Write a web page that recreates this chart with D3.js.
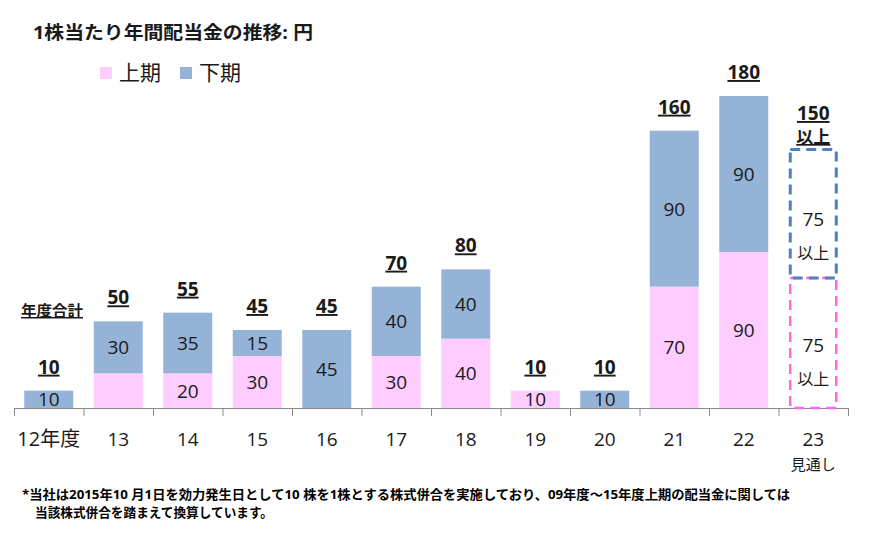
<!DOCTYPE html>
<html>
<head>
<meta charset="utf-8">
<script src="https://cdn.jsdelivr.net/npm/d3@7"></script>
<style>
  body { margin: 0; background: #fff; }
  svg { display: block; font-family: "Open Sans", "Noto Sans CJK JP", sans-serif; }
</style>
</head>
<body>
<svg id="chart"></svg>
<script>
// fiscal years, first/second half dividends (yen per share)
const years = ["12", "13", "14", "15", "16", "17", "18", "19", "20", "21", "22", "23"];
const yearLabels = ["12年度", "13", "14", "15", "16", "17", "18", "19", "20", "21", "22", "23"];
const firstHalf = [0, 20, 20, 30, 0, 30, 40, 10, 0, 70, 90, 75];
const secondHalf = [10, 30, 35, 15, 45, 40, 40, 0, 10, 90, 90, 75];
const totals = [10, 50, 55, 45, 45, 70, 80, 10, 10, 160, 180, 150];
// label shown inside the pink part (13 has none in the source)
const firstLabels = ["", "", "20", "30", "", "30", "40", "10", "", "70", "90", "75"];
const secondLabels = ["10", "30", "35", "15", "45", "40", "40", "", "10", "90", "90", "75"];
const forecastYear = "23";

const title = "1株当たり年間配当金の推移: 円";
const seriesNames = ["上期", "下期"];
const note1 = "*当社は2015年10 月1日を効力発生日として10 株を1株とする株式併合を実施しており、09年度～15年度上期の配当金に関しては";
const note2 = "当該株式併合を踏まえて換算しています。";

const pink = "#ffccff", blue = "#95b3d7";
const pinkLine = "#ff66ee", blueLine = "#4f81bd";
const ink = "#1a1a1a";

const svgWidth = 870, svgHeight = 547;
const left = 14, right = 848, base = 408;

const svg = d3.select("#chart")
    .attr("width", svgWidth)
    .attr("height", svgHeight);

const x = d3.scaleBand()
    .domain(years)
    .range([left, right])
    .paddingInner(0.295)
    .paddingOuter(0.1475);

const y = d3.scaleLinear()
    .domain([0, 180])
    .range([base, 96]);

const rows = years.map((yr, i) => ({
    yr, i,
    first: firstHalf[i], second: secondHalf[i], total: totals[i],
    firstLabel: firstLabels[i], secondLabel: secondLabels[i]
}));

// title
svg.append("text")
    .attr("x", 33).attr("y", 39)
    .attr("font-size", 18).attr("font-weight", "bold")
    .attr("textLength", 280).attr("lengthAdjust", "spacingAndGlyphs")
    .attr("fill", ink)
    .text(title);

// legend
const legend = svg.append("g");
[pink, blue].forEach((c, i) => {
    legend.append("rect")
        .attr("x", 100 + i * 80).attr("y", 67)
        .attr("width", 12).attr("height", 12)
        .attr("fill", c);
    legend.append("text")
        .attr("x", 119 + i * 80).attr("y", 80)
        .attr("font-size", 21)
        .attr("fill", ink)
        .text(seriesNames[i]);
});

// axis with boundary ticks
const bounds = d3.scaleLinear().domain([0, years.length]).range([left, right]);
const axis = svg.append("g")
    .attr("transform", `translate(0,${base})`)
    .call(d3.axisBottom(bounds)
        .tickValues(d3.range(0, years.length + 1))
        .tickSizeInner(8).tickSizeOuter(0)
        .tickFormat(""));
axis.selectAll("path, line").attr("stroke", "#8a8a8a").attr("stroke-width", 1);

const actual = rows.filter(d => d.yr !== forecastYear);
const forecast = rows.filter(d => d.yr === forecastYear);

// stacked bars
const bars = svg.append("g");
bars.selectAll("rect.first")
    .data(actual.filter(d => d.first > 0))
    .join("rect")
    .attr("class", "first")
    .attr("x", d => x(d.yr))
    .attr("y", d => y(d.first))
    .attr("width", x.bandwidth())
    .attr("height", d => y(0) - y(d.first))
    .attr("fill", pink);

bars.selectAll("rect.second")
    .data(actual.filter(d => d.second > 0))
    .join("rect")
    .attr("class", "second")
    .attr("x", d => x(d.yr))
    .attr("y", d => y(d.first + d.second))
    .attr("width", x.bandwidth())
    .attr("height", d => y(d.first) - y(d.first + d.second))
    .attr("fill", blue);

// forecast: dashed outlines
const sw = 3;
forecast.forEach(d => {
    svg.append("rect")
        .attr("x", x(d.yr) + sw / 2)
        .attr("y", y(d.first))
        .attr("width", x.bandwidth() - sw)
        .attr("height", y(0) - y(d.first))
        .attr("fill", "none")
        .attr("stroke", pinkLine)
        .attr("stroke-width", 2.5)
        .attr("stroke-dasharray", "10,6");
    svg.append("rect")
        .attr("x", x(d.yr) + sw / 2)
        .attr("y", y(d.first + d.second) + sw / 2)
        .attr("width", x.bandwidth() - sw)
        .attr("height", y(d.first) - y(d.first + d.second) - sw / 2)
        .attr("fill", "none")
        .attr("stroke", blueLine)
        .attr("stroke-width", sw)
        .attr("stroke-dasharray", "10,6");
});

// value labels inside segments
const cx = d => x(d.yr) + x.bandwidth() / 2;
const inner = svg.append("g")
    .attr("font-size", 19).attr("fill", ink).attr("text-anchor", "middle");

inner.selectAll("text.fl")
    .data(actual.filter(d => d.firstLabel))
    .join("text")
    .attr("class", "fl")
    .attr("x", cx)
    .attr("y", d => (y(0) + y(d.first)) / 2 + 7)
    .text(d => d.firstLabel);

inner.selectAll("text.sl")
    .data(actual.filter(d => d.secondLabel))
    .join("text")
    .attr("class", "sl")
    .attr("x", cx)
    .attr("y", d => (y(d.first) + y(d.first + d.second)) / 2 + 7)
    .text(d => d.secondLabel);

forecast.forEach(d => {
    const mids = [(y(0) + y(d.first)) / 2, (y(d.first) + y(d.first + d.second)) / 2 + 4];
    const vals = [d.firstLabel, d.secondLabel];
    mids.forEach((m, k) => {
        inner.append("text").attr("x", cx(d)).attr("y", m + 9).text(vals[k]);
        inner.append("text").attr("x", cx(d)).attr("y", m + 42)
            .attr("font-size", 16).text("以上");
    });
});

// totals
const tot = svg.append("g")
    .attr("font-size", 19).attr("font-weight", "bold").attr("fill", ink)
    .attr("text-anchor", "middle").style("text-decoration", "underline");

tot.selectAll("text.tot")
    .data(actual)
    .join("text")
    .attr("class", "tot")
    .attr("x", cx)
    .attr("y", d => y(d.total) - 17)
    .text(d => d.total);

forecast.forEach(d => {
    const top = y(d.first + d.second) + 9;
    tot.append("text").attr("x", cx(d)).attr("y", top - 37).text(d.total);
    tot.append("text").attr("x", cx(d)).attr("y", top - 14)
        .attr("font-size", 17).text("以上");
});

svg.append("text")
    .attr("x", 21).attr("y", 316)
    .attr("font-size", 15).attr("font-weight", "bold")
    .attr("textLength", 62).attr("lengthAdjust", "spacingAndGlyphs")
    .attr("fill", ink).style("text-decoration", "underline")
    .text("年度合計");

// category labels
svg.append("g")
    .attr("font-size", 19).attr("fill", ink).attr("text-anchor", "middle")
    .selectAll("text")
    .data(rows)
    .join("text")
    .attr("x", cx)
    .attr("y", 446)
    .attr("font-size", d => d.i === 0 ? 20 : 19)
    .text(d => yearLabels[d.i]);

svg.append("text")
    .attr("x", x(forecastYear) + x.bandwidth() / 2).attr("y", 470)
    .attr("font-size", 15).attr("fill", ink).attr("text-anchor", "middle")
    .text("見通し");

// footnote
svg.append("text")
    .attr("x", 22).attr("y", 499)
    .attr("font-size", 13).attr("font-weight", "bold").attr("fill", "#000")
    .attr("textLength", 768).attr("lengthAdjust", "spacingAndGlyphs")
    .text(note1);
svg.append("text")
    .attr("x", 35).attr("y", 517)
    .attr("font-size", 13).attr("font-weight", "bold").attr("fill", "#000")
    .attr("textLength", 238).attr("lengthAdjust", "spacingAndGlyphs")
    .text(note2);
</script>
</body>
</html>
